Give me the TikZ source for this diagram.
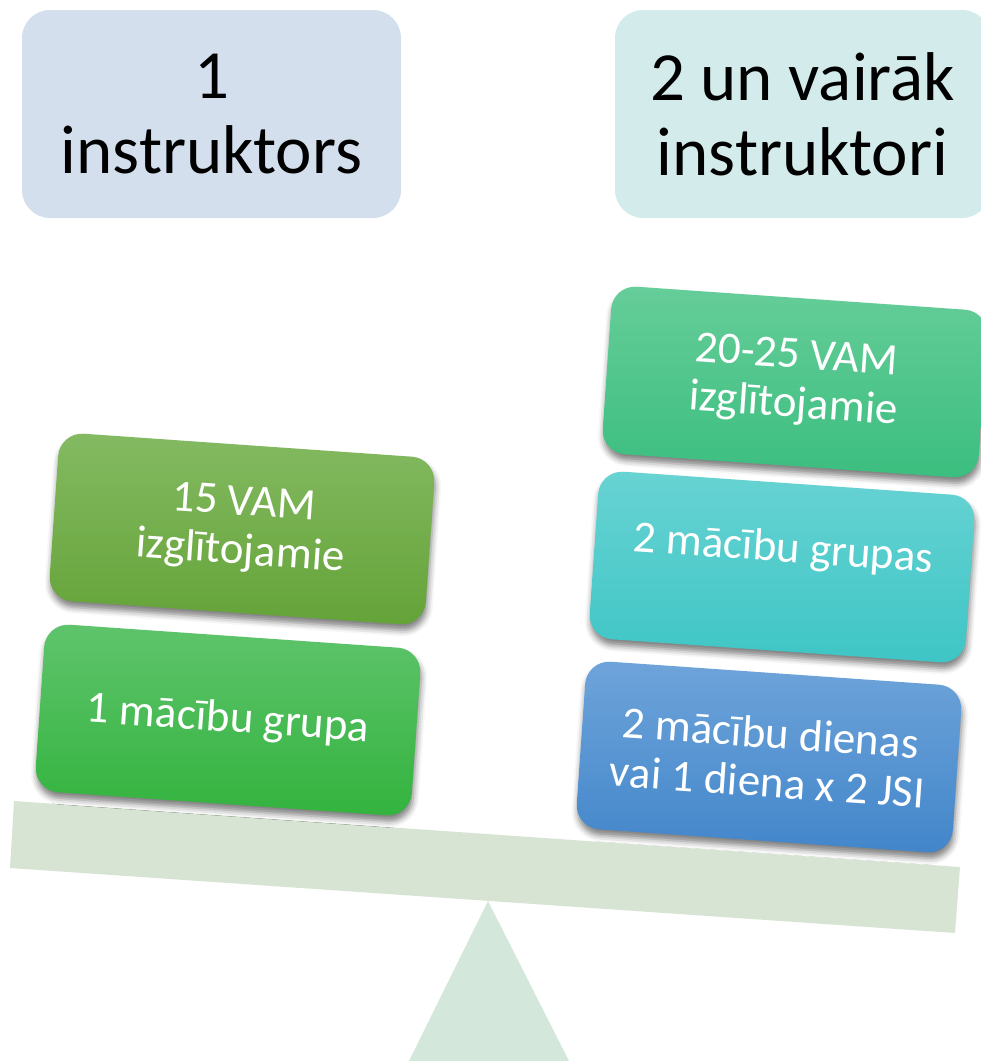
\documentclass[tikz,border=0pt]{standalone}
\usepackage{fontspec}
\setmainfont{Carlito}
\usetikzlibrary{shadows.blur,calc}
\definecolor{headL}{HTML}{D4DFEE}
\definecolor{headR}{HTML}{D3EBEB}
\definecolor{beamC}{HTML}{D8E4D3}
\definecolor{triC}{HTML}{D3E7DB}
\definecolor{olvT}{HTML}{84BA62}
\definecolor{olvB}{HTML}{64A338}
\definecolor{grnT}{HTML}{5FC46C}
\definecolor{grnB}{HTML}{33B33E}
\definecolor{mntT}{HTML}{66CD99}
\definecolor{mntB}{HTML}{3BBE7F}
\definecolor{cyaT}{HTML}{68D3D3}
\definecolor{cyaB}{HTML}{3EC5C5}
\definecolor{bluT}{HTML}{6EA4DA}
\definecolor{bluB}{HTML}{4286CA}
\begin{document}
\begin{tikzpicture}[x=1pt,y=-1pt,
  headbox/.style={rounded corners=28pt, minimum width=379pt, minimum height=208pt,
    align=center, inner sep=0pt, font=\fontsize{69}{75}\selectfont, text=black},
  panbox/.style={rounded corners=24pt, minimum width=377pt, minimum height=168pt,
    rotate=-4, inner sep=0pt, align=center, text=white,
    font=\fontsize{45}{49}\selectfont,
    blur shadow={shadow xshift=1pt, shadow yshift=-6pt, shadow blur radius=6pt, shadow opacity=50}},
  pantext/.style={rotate=-4, inner sep=0pt, align=center, text=white,
    font=\fontsize{45}{49}\selectfont}
]
\useasboundingbox (0,0) rectangle (981,1061);
\clip (0,0) rectangle (981,1061);

% header boxes
\node[headbox, fill=headL] (t1) at (211.5,114) {1\\instruktors};
\node[headbox, fill=headR, minimum width=375pt] (t2) at (802.5,114) {2 un vairāk\\instruktori};

% fulcrum and beam
\fill[triC] (488,901) -- (569,1061) -- (409,1061) -- cycle;
\fill[beamC] (14,801) -- (960,867) -- (955,933) -- (10,868) -- cycle;

% left pan
\node[panbox, top color=olvT, bottom color=olvB] (a) at (242,529) {15 VAM\\izglītojamie};
\node[panbox, top color=grnT, bottom color=grnB] (b) at (228,720) {1 mācību grupa};

% right pan
\node[panbox, top color=mntT, bottom color=mntB] (c) at (795,382) {20-25 VAM\\izglītojamie};
\node[panbox, top color=cyaT, bottom color=cyaB] (d) at (782,567) {};
\node[pantext] (dt) at ($(d.center)!17pt!(d.north)$) {2 mācību grupas};
\node[panbox, top color=bluT, bottom color=bluB] (e) at (769,757) {2 mācību dienas\\vai 1 diena x 2 JSI};
\end{tikzpicture}
\end{document}
